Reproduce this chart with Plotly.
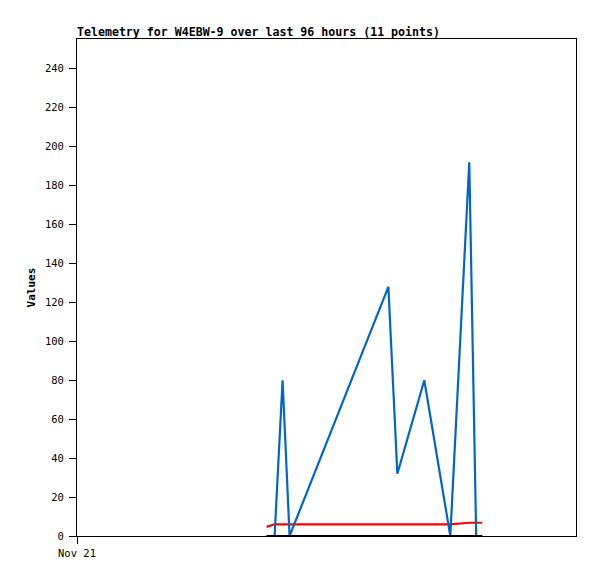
import plotly.graph_objects as go

times = [
    "2023-11-22 12:29", "2023-11-22 14:01", "2023-11-22 15:33", "2023-11-22 16:54",
    "2023-11-23 11:54", "2023-11-23 13:38", "2023-11-23 18:49", "2023-11-23 23:49",
    "2023-11-24 03:28", "2023-11-24 04:48", "2023-11-24 05:57",
]
blue_vals = [0, 0, 80, 0, 128, 32, 80, 0, 192, 0, 0]
red_vals = [4.7, 6, 6, 6, 6, 6, 6, 6, 6.8, 6.8, 6.8]
black_vals = [0, 0, 0, 0, 0, 0, 0, 0, 0, 0, 0]

y_ticks = list(range(0, 241, 20))
x_tick_vals = ["2023-11-21 00:00"]
x_tick_text = ["Nov 21"]
x_range = ["2023-11-21 00:00", "2023-11-25 00:00"]
y_range = [0, 255.3]

mono = "DejaVu Sans Mono"
W, H = 581, 563

fig = go.Figure()
fig.add_trace(go.Scatter(x=times, y=red_vals, mode="lines",
                         line=dict(color="#FF0000", width=2.2), hoverinfo="skip"))
fig.add_trace(go.Scatter(x=times, y=blue_vals, mode="lines",
                         line=dict(color="#0066CC", width=2.2), hoverinfo="skip"))
fig.add_trace(go.Scatter(x=times, y=black_vals, mode="lines",
                         line=dict(color="#000000", width=2.2), hoverinfo="skip"))

fig.update_layout(
    width=W, height=H,
    margin=dict(l=69, r=12, t=31, b=29),
    paper_bgcolor="white", plot_bgcolor="white",
    showlegend=False,
    title=dict(text="<b>Telemetry for W4EBW-9 over last 96 hours (11 points)</b>",
               font=dict(family=mono, size=11.6, color="black"),
               x=69/W, xanchor="left", xref="container",
               y=1-24/H, yanchor="middle", yref="container"),
    font=dict(family=mono, size=10.5, color="black"),
)
fig.update_xaxes(range=x_range, type="date", tickvals=x_tick_vals, ticktext=x_tick_text,
                 ticks="outside", ticklen=7, tickcolor="black", showgrid=False,
                 showline=True, linecolor="black", linewidth=1, mirror=True,
                 zeroline=False, tickfont=dict(family=mono, size=10.5))
fig.update_yaxes(range=y_range, tickvals=y_ticks, ticks="outside", ticklen=7,
                 tickcolor="black", showgrid=False, showline=True, linecolor="black",
                 linewidth=1, mirror=True, zeroline=False, ticklabelstandoff=3,
                 title=dict(text="<b>Values</b>", font=dict(family=mono, size=11), standoff=7),
                 tickfont=dict(family=mono, size=10.5))

fig.write_html("out.html")
